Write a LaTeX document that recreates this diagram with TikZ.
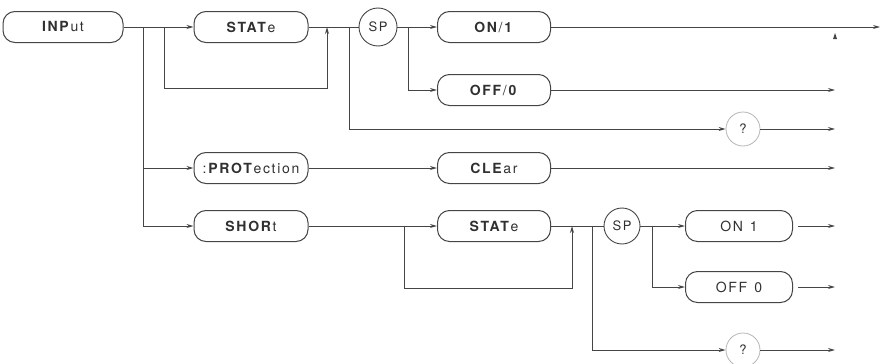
\documentclass[tikz,border=0pt]{standalone}
\usepackage{fontspec}
\setmainfont{TeX Gyre Heros}
\newfontfamily\dfont[LetterSpace=12]{TeX Gyre Heros}
\usetikzlibrary{arrows.meta}
\definecolor{ink}{HTML}{303030}
\definecolor{wire}{HTML}{454545}
\begin{document}
\begin{tikzpicture}[x=1pt,y=-1pt,
  kw/.style={draw=wire,line width=1pt,rounded corners=12pt,minimum height=31pt,inner sep=0pt,text=ink,font=\dfont\fontsize{14}{16}\selectfont},
  circ/.style={draw=wire,line width=0.9pt,circle,inner sep=0pt,text=ink,font=\dfont\fontsize{13}{15}\selectfont},
  qc/.style={draw=wire!40,line width=0.8pt,circle,minimum size=34pt,inner sep=0pt,text=ink,font=\dfont\fontsize{13}{15}\selectfont},
  wl/.style={draw=wire,line width=1pt},
  ar/.style={wl,-{Stealth[length=7pt,width=4pt]}}]
\useasboundingbox (0,0) rectangle (884,364);
% nodes
\node[kw,minimum width=120pt] (inp) at (63,27) {\textbf{INP}ut};
\node[kw,minimum width=114pt] (st1) at (251,27) {\textbf{STAT}e};
\node[circ,minimum size=38pt] (sp1) at (378,27) {SP};
\node[kw,minimum width=113pt] (on1) at (494,27) {\textbf{ON}/\textbf{1}};
\node[kw,minimum width=113pt] (off1) at (494,90) {\textbf{OFF}/\textbf{0}};
\node[qc] (q1) at (743,129) {?};
\node[kw,minimum width=114pt] (prot) at (251,168) {:\textbf{PROT}ection};
\node[kw,minimum width=113pt] (clr) at (494,168) {\textbf{CLE}ar};
\node[kw,minimum width=114pt] (shor) at (251,226) {\textbf{SHOR}t};
\node[kw,minimum width=113pt] (st2) at (494,226) {\textbf{STAT}e};
\node[circ,minimum size=36pt] (sp2) at (622,226) {SP};
\node[kw,minimum width=107pt] (on2) at (739,226) {ON\enspace1};
\node[kw,minimum width=107pt] (off2) at (739,287) {OFF\enspace0};
\node[qc] (q2) at (743,350) {?};
% junction coordinates
\coordinate (j1) at (143,27);
\coordinate (j2) at (164,27);
\coordinate (j3) at (327,27);
\coordinate (j4) at (349,27);
\coordinate (j5) at (408,27);
\coordinate (j6) at (404,226);
\coordinate (j7) at (572,226);
\coordinate (j8) at (592,226);
\coordinate (j9) at (652,226);
\coordinate (e1) at (880,27);
\coordinate (e2) at (835,90);
\coordinate (e3) at (835,129);
\coordinate (e4) at (835,168);
\coordinate (e5) at (835,226);
\coordinate (e6) at (835,287);
\coordinate (e7) at (835,350);
% row 1
\draw[wl] (inp.east) -- (j2);
\draw[ar] (j2) -- (st1.west);
\draw[ar] (j2) -- (164,88) -| (j3);
\draw[wl] (st1.east) -- (sp1.west);
\draw[ar] (j4) |- (q1.west);
\draw[ar] (q1.east) -- (e3);
\draw[wl] (sp1.east) -- (j5);
\draw[ar] (j5) -- (on1.west);
\draw[ar] (j5) |- (off1.west);
\draw[ar] (on1.east) -- (e1);
\fill[wire] (835,33) -- (833,39) -- (837,39) -- cycle;
\draw[ar] (off1.east) -- (e2);
% protection
\draw[ar] (j1) |- (prot.west);
\draw[ar] (j1) |- (shor.west);
\draw[ar] (prot.east) -- (clr.west);
\draw[ar] (clr.east) -- (e4);
% short
\draw[ar] (shor.east) -- (st2.west);
\draw[ar] (j6) -- (404,288) -| (j7);
\draw[wl] (st2.east) -- (sp2.west);
\draw[ar] (j8) |- (q2.west);
\draw[ar] (q2.east) -- (e7);
\draw[wl] (sp2.east) -- (j9);
\draw[ar] (j9) -- (on2.west);
\draw[ar] (j9) |- (off2.west);
\draw[ar,shorten <=5pt] (on2.east) -- (e5);
\draw[ar,shorten <=5pt] (off2.east) -- (e6);
\end{tikzpicture}
\end{document}
